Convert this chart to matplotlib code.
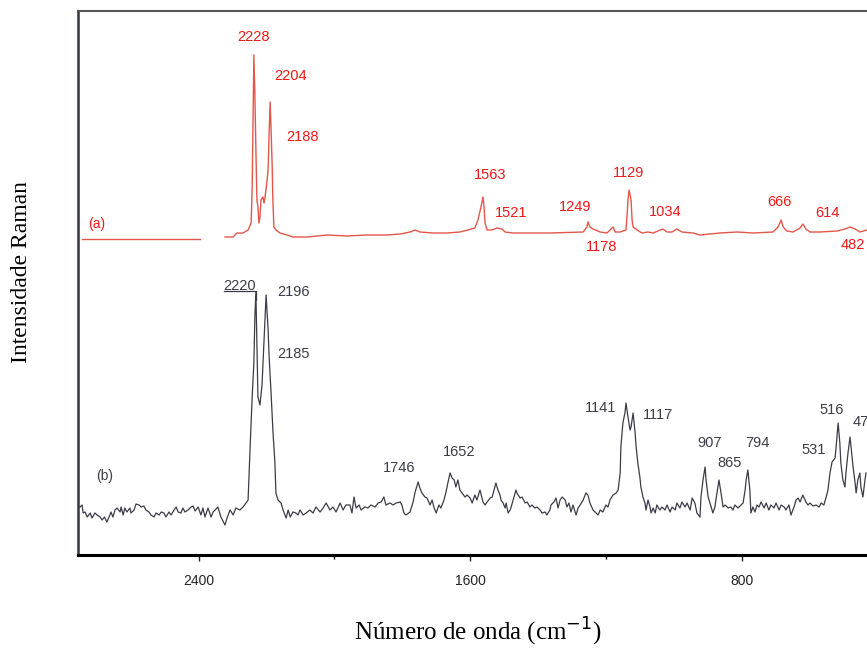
import matplotlib
matplotlib.use("Agg")
import matplotlib.pyplot as plt

# ---------------- data ----------------
# spectrum (a): two measured segments
a1_wn = [2743, 2395]
a1_int = [316, 316]

a2_wn = [2322, 2298, 2287, 2269, 2254, 2245, 2242, 2239, 2237, 2234, 2231, 2228,
         2225, 2222, 2219, 2216, 2210, 2207, 2204, 2198, 2195, 2192, 2189, 2186,
         2183, 2181, 2178, 2172, 2160, 2139, 2122, 2080, 2021, 1963, 1904, 1845,
         1806, 1777, 1762, 1748, 1709, 1668, 1630, 1606, 1586, 1577, 1568, 1562,
         1559, 1556, 1550, 1536, 1521, 1506, 1497, 1474, 1415, 1365, 1267, 1256,
         1253, 1247, 1238, 1217, 1197, 1188, 1179, 1173, 1158, 1141, 1138, 1135,
         1132, 1126, 1123, 1120, 1108, 1094, 1076, 1061, 1047, 1032, 1020, 1005,
         991, 976, 943, 923, 864, 814, 767, 708, 693, 684, 678, 667, 649, 628,
         620, 611, 599, 569, 519, 496, 481, 466, 452, 431]
a2_int = [318, 318, 322, 322, 325, 332, 368, 445, 500, 460, 405, 355,
          348, 332, 338, 355, 358, 352, 358, 375, 385, 422, 453, 422,
          388, 355, 328, 325, 322, 320, 318, 318, 320, 319, 320, 320,
          321, 323, 325, 323, 322, 322, 323, 325, 327, 335, 348, 358,
          348, 332, 325, 325, 327, 326, 323, 322, 322, 322, 323, 328,
          333, 328, 326, 323, 322, 325, 328, 323, 323, 325, 338, 355,
          365, 355, 335, 328, 325, 322, 323, 322, 324, 326, 323, 323,
          326, 323, 322, 320, 322, 323, 322, 323, 328, 335, 328, 324, 323, 327,
          331, 326, 323, 323, 324, 326, 328, 326, 323, 325]

# spectrum (b)
b_wn = [2749, 2743, 2740, 2734, 2728, 2719, 2714, 2705, 2699, 2690, 2684, 2677,
        2670, 2661, 2658, 2652, 2646, 2640, 2631, 2628, 2622, 2617, 2611, 2602,
        2599, 2590, 2584, 2575, 2569, 2561, 2555, 2546, 2540, 2531, 2525, 2516,
        2510, 2502, 2496, 2487, 2481, 2472, 2466, 2460, 2452, 2446, 2440, 2431,
        2422, 2416, 2410, 2401, 2393, 2387, 2381, 2372, 2363, 2357,
        2351, 2343, 2334, 2322, 2316, 2307, 2298, 2290, 2278, 2269, 2260, 2254,
        2248, 2242, 2237, 2234, 2231, 2228, 2225, 2219, 2213, 2210, 2204, 2201,
        2195, 2192, 2186, 2181, 2175, 2172, 2166, 2160, 2157, 2151, 2142, 2136,
        2130, 2122, 2113, 2107, 2101, 2092, 2083, 2072, 2063, 2054, 2042, 2033,
        2024, 2013, 2004, 1995, 1983, 1974, 1966,
        1954, 1948, 1942, 1936, 1927, 1921, 1910, 1901, 1892, 1880, 1871, 1862,
        1854, 1848, 1836, 1827, 1818, 1806, 1801, 1795, 1789, 1777, 1768, 1762,
        1753, 1748, 1742, 1733, 1727, 1718, 1712, 1706, 1700, 1692, 1686, 1677,
        1671, 1665, 1659, 1653, 1647, 1642, 1636, 1630, 1624, 1615, 1609, 1600,
        1594, 1586, 1580, 1571, 1562,
        1556, 1550, 1541, 1535, 1527, 1524, 1518, 1512, 1509, 1503, 1497, 1494,
        1488, 1482, 1480, 1471, 1465, 1462, 1453, 1447, 1438, 1432, 1424, 1418,
        1409, 1403, 1394, 1388, 1379, 1374, 1365, 1362, 1353, 1347, 1341, 1335,
        1329, 1320, 1315, 1309, 1303, 1297, 1288, 1282, 1276, 1267, 1259, 1253,
        1247, 1238, 1229, 1223, 1217, 1209, 1200, 1194, 1188, 1179, 1170, 1164,
        1158, 1156, 1150, 1144, 1141, 1135, 1129, 1126, 1120, 1114, 1111, 1106,
        1100, 1097, 1091, 1085, 1082, 1076, 1070, 1067, 1061, 1055, 1050, 1041,
        1035, 1026, 1020, 1011, 1005, 996, 991, 982, 976, 967, 961, 952, 946,
        938, 932, 923, 920, 914, 908, 905, 899, 890, 885, 879, 873, 867, 861,
        855, 849, 840, 832, 826, 820, 811, 802, 796, 790, 787, 782, 776, 773, 767,
        761, 755, 749, 743, 734, 728, 720, 714, 705, 699, 690, 684, 675, 670,
        661, 655, 646, 640, 634, 628, 620, 611, 605, 599, 590, 581, 572, 566,
        558, 552, 546, 540, 534, 525, 522, 516, 511, 508, 502, 496, 493, 487,
        481, 478, 472, 466, 463, 458, 452, 449, 443, 437, 434]
b_int = [48, 50, 42, 43, 38, 42, 37, 42, 40, 38, 35, 38,
         33, 40, 43, 38, 45, 47, 43, 48, 40, 47, 43, 47,
         42, 45, 51, 50, 48, 49, 45, 43, 40, 38, 42, 40,
         43, 42, 38, 43, 40, 45, 48, 43, 42, 47, 43, 45,
         48, 49, 44, 48, 40, 47, 38, 47, 38, 43,
         45, 48, 38, 30, 37, 45, 40, 47, 45, 48, 52, 55,
         108, 158, 192, 238, 263, 208, 158, 150, 170, 192, 235, 260,
         225, 198, 160, 125, 92, 62, 55, 53, 52, 45, 37, 45,
         38, 43, 42, 40, 45, 40, 42, 45, 42, 48, 43, 47,
         52, 45, 48, 43, 52, 45, 50,
         50, 42, 58, 47, 50, 45, 48, 47, 50, 48, 52, 53,
         58, 50, 52, 50, 52, 53, 50, 42, 40, 43, 53, 63,
         73, 67, 62, 58, 57, 50, 55, 47, 42, 50, 47, 55,
         63, 73, 82, 77, 75, 68, 75, 65, 62, 58, 60, 57,
         52, 60, 55, 65, 53,
         50, 53, 57, 58, 68, 72, 65, 60, 55, 52, 47, 52,
         42, 45, 47, 58, 65, 62, 57, 58, 52, 53, 48, 50,
         47, 48, 45, 42, 43, 40, 45, 50, 53, 57, 47, 55,
         58, 55, 48, 52, 43, 50, 40, 47, 50, 55, 62, 60,
         52, 45, 42, 40, 45, 43, 50, 48, 55, 60, 62, 65,
         82, 108, 132, 142, 152, 138, 125, 128, 142, 122, 108, 92,
         78, 68, 58, 52, 45, 55, 48, 42, 47, 42, 50, 45,
         48, 45, 50, 43, 48, 45, 52, 47, 53, 48, 52, 45, 57,
         52, 42, 38, 58, 75, 88, 75, 58, 48, 42, 48, 62, 75, 62,
         48, 50, 47, 48, 45, 50, 47, 50, 52, 65, 75, 85, 65, 42, 48,
         43, 50, 48, 53, 47, 52, 45, 50, 47, 52, 45, 50, 48, 45,
         50, 40, 48, 55, 57, 53, 60, 53, 50, 52, 49, 50, 48, 52,
         50, 57, 65, 82, 93, 97, 108, 132, 112, 92, 75, 68, 82, 102,
         118, 108, 88, 72, 62, 75, 82, 68, 58, 75, 82]

# peak labels
a_labels = ["2228", "2204", "2188", "1563", "1521", "1249", "1178", "1129",
            "1034", "666", "614"]
a_lab_wn = [2237, 2130, 2095, 1542, 1480, 1291, 1214, 1132, 1026, 690, 549]
a_lab_int = [518, 479, 418, 380, 342, 348, 308, 382, 343, 353, 342]

b_labels = ["2196", "2185", "1746", "1652", "1141", "1117", "907", "865",
            "794", "531", "516"]
b_lab_wn = [2119, 2119, 1809, 1633, 1217, 1046, 896, 835, 755, 587, 534]
b_lab_int = [263, 201, 87, 103, 147, 140, 112, 92, 112, 105, 145]

x_ticks = [2400, 1600, 800]
x_minor = [2000, 1200]

# ---------------- figure ----------------
red_line = "#e2574a"
red_text = "#f01818"
dark = "#3c3c48"

fig = plt.figure(figsize=(8.67, 6.48), dpi=100)
ax = fig.add_axes([78 / 867, 93 / 648, 1 - 78 / 867, (555 - 11) / 648])

ax.plot(a1_wn, a1_int, color=red_line, lw=1.0)
ax.plot(a2_wn, a2_int, color=red_line, lw=1.0)
ax.plot(b_wn, b_int, color=dark, lw=0.9)

for t, x, y in zip(a_labels, a_lab_wn, a_lab_int):
    ax.text(x, y, t, color=red_text, fontsize=10.5, ha="center", va="center",
            family="Liberation Sans")
ax.text(510, 310, "482", color=red_text, fontsize=10.5, ha="left", va="center",
        family="Liberation Sans")
ax.text(2699, 331, "(a)", color=red_text, fontsize=10, ha="center", va="center",
        family="Liberation Sans")

# 2220 label with its leader line
ax.text(2278, 269, "2220", color=dark, fontsize=10.5, ha="center", va="center",
        family="Liberation Sans")
ax.plot([2325, 2231, 2231], [264, 264, 255], color=dark, lw=0.9)
for t, x, y in zip(b_labels, b_lab_wn, b_lab_int):
    ax.text(x, y, t, color=dark, fontsize=10.5, ha="center", va="center",
            family="Liberation Sans")
ax.text(474, 133, "47", color=dark, fontsize=10.5, ha="left", va="center",
        family="Liberation Sans")
ax.text(2678, 79, "(b)", color=dark, fontsize=10, ha="center", va="center",
        family="Liberation Sans")

ax.set_xlim(2755, 431)
ax.set_ylim(0, 544)
ax.set_xticks(x_ticks)
ax.set_xticks(x_minor, minor=True)
ax.set_xticklabels([str(v) for v in x_ticks], fontsize=10,
                   family="Liberation Sans")
ax.set_yticks([])
ax.tick_params(axis="x", which="major", direction="out", length=4, width=1,
               pad=10, colors="#222222")
ax.tick_params(axis="x", which="minor", direction="out", length=3, width=1)

ax.spines["right"].set_visible(False)
ax.spines["top"].set_color("#555555")
ax.spines["top"].set_linewidth(1.5)
ax.spines["left"].set_color("#333344")
ax.spines["left"].set_linewidth(1.8)
ax.spines["bottom"].set_color("#000000")
ax.spines["bottom"].set_linewidth(2.2)

ax.set_xlabel("Número de onda (cm$^{-1}$)", family="Liberation Serif",
              fontsize=18, va="center")
ax.xaxis.set_label_coords((478 - 78) / 789, (555 - 632) / 544)
ax.set_ylabel("Intensidade Raman", family="Liberation Serif", fontsize=17,
              va="center")
ax.yaxis.set_label_coords((22 - 78) / 789, (555 - 272) / 544)

fig.savefig("out.png", dpi=100)
